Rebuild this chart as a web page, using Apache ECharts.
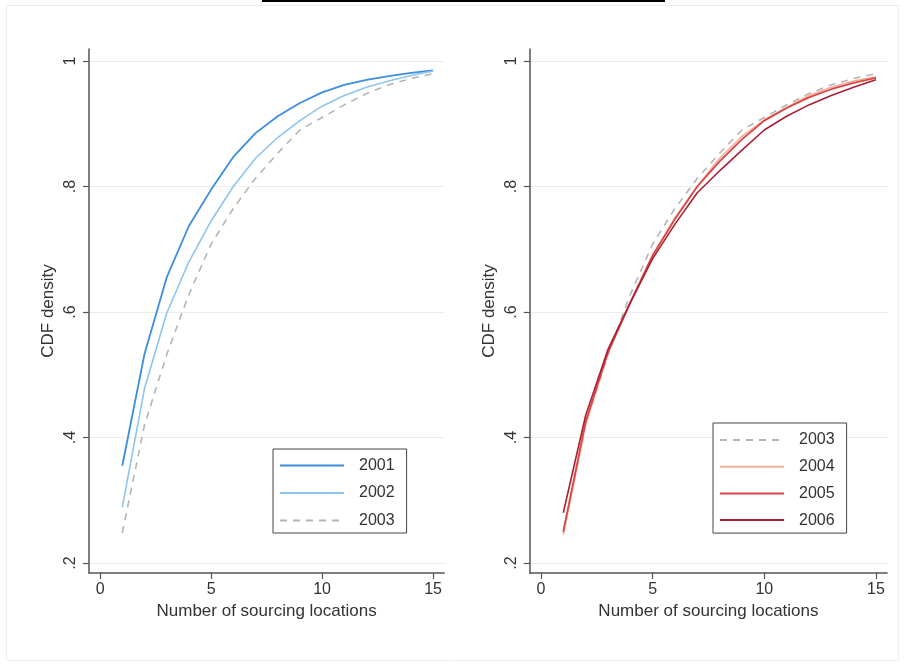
<!DOCTYPE html>
<html>
<head>
<meta charset="utf-8">
<script src="https://cdn.jsdelivr.net/npm/echarts@6/dist/echarts.min.js"></script>
<style>
html,body{margin:0;padding:0;background:#fff;}
#chart{width:904px;height:667px;}
</style>
</head>
<body>
<div id="chart"></div>
<script>
// ---- data ----
var locations = [1,2,3,4,5,6,7,8,9,10,11,12,13,14,15];
var cdf2001 = [0.355,0.533,0.655,0.737,0.795,0.847,0.885,0.912,0.933,0.950,0.962,0.970,0.976,0.981,0.985];
var cdf2002 = [0.289,0.478,0.598,0.680,0.745,0.800,0.845,0.878,0.905,0.928,0.945,0.958,0.968,0.977,0.984];
var cdf2003 = [0.248,0.420,0.532,0.628,0.708,0.765,0.813,0.853,0.890,0.910,0.930,0.948,0.962,0.972,0.980];
var cdf2004 = [0.245,0.420,0.540,0.615,0.690,0.750,0.800,0.845,0.880,0.906,0.926,0.945,0.958,0.968,0.975];
var cdf2005 = [0.250,0.425,0.535,0.615,0.690,0.748,0.800,0.840,0.875,0.905,0.925,0.942,0.955,0.965,0.973];
var cdf2006 = [0.280,0.435,0.540,0.615,0.685,0.740,0.790,0.825,0.858,0.890,0.912,0.930,0.945,0.958,0.970];
var yTickValues = [0.2,0.4,0.6,0.8,1];
var yTickLabels = ['.2','.4','.6','.8','1'];
var xTickValues = [0,5,10,15];
var xTickLabels = ['0','5','10','15'];
var xTitle = 'Number of sourcing locations';
var yTitle = 'CDF density';

function pairs(arr){ return locations.map(function(x,i){ return [x, arr[i]]; }); }

var FONT = '"Liberation Sans", Arial, sans-serif';
var AXC = '#555555';
var TXT = '#333333';

function makeX(idx){
  return {
    type:'value', gridIndex:idx, min:-0.5, max:15.5,
    axisLine:{show:true, onZero:false, lineStyle:{color:AXC, width:1.5}},
    axisTick:{show:true, length:6, inside:false, customValues:xTickValues, lineStyle:{color:AXC, width:1.2}},
    axisLabel:{customValues:xTickValues, margin:9, color:TXT, fontSize:16, fontFamily:FONT,
      formatter:function(v){ var i = xTickValues.indexOf(v); return i>=0 ? xTickLabels[i] : ''; }},
    splitLine:{show:false},
    name:xTitle, nameLocation:'middle', nameGap:25,
    nameTextStyle:{color:TXT, fontSize:17, fontFamily:FONT}
  };
}
function makeY(idx){
  return {
    type:'value', gridIndex:idx, min:0.184, max:1.0191,
    axisLine:{show:true, onZero:false, lineStyle:{color:AXC, width:1.5}},
    axisTick:{show:true, length:6, inside:false, customValues:yTickValues, lineStyle:{color:AXC, width:1.2}},
    axisLabel:{customValues:yTickValues, rotate:90, margin:10, color:TXT, fontSize:16, fontFamily:FONT,
      formatter:function(v){ var i = yTickValues.indexOf(v); return i>=0 ? yTickLabels[i] : ''; }},
    splitLine:{show:true, lineStyle:{color:'#ececec', width:1}},
    name:yTitle, nameLocation:'middle', nameGap:32,
    nameTextStyle:{color:TXT, fontSize:17, fontFamily:FONT}
  };
}
function lineSeries(name, arr, idx, color, width, dashed){
  return {
    name:name, type:'line', xAxisIndex:idx, yAxisIndex:idx, data:pairs(arr),
    showSymbol:false, symbol:'none', smooth:false, animation:false,
    lineStyle:{color:color, width:width, type: dashed ? [7,6] : 'solid'},
    itemStyle:{color:color}
  };
}

var C2001 = '#3a8ee0', C2002 = '#8fc4ec', C2003 = '#b4b4b4',
    C2004 = '#f3ad9c', C2005 = '#dc4545', C2006 = '#ab1f34';

var legendCommon = {
  orient:'vertical', itemWidth:64, itemHeight:14,
  borderColor:'#444', borderWidth:1, backgroundColor:'#fff',
  selectedMode:false,
  itemStyle:{opacity:0, borderWidth:0},
  textStyle:{color:TXT, fontSize:16, fontFamily:FONT, lineHeight:18, padding:[0,0,0,10]}
};
function legendAt(extra){ var o = {}; for (var k in legendCommon) o[k]=legendCommon[k]; for (var k2 in extra) o[k2]=extra[k2]; return o; }

var option = {
  backgroundColor:'#ffffff',
  animation:false,
  grid:[
    {left:89, top:49, width:355.2, bottom:94, containLabel:false},
    {left:529.8, top:49, width:357.3, bottom:94, containLabel:false}
  ],
  xAxis:[makeX(0), makeX(1)],
  yAxis:[makeY(0), makeY(1)],
  legend:[
    legendAt({left:273, top:449, data:['2001','2002','2003'], itemGap:9.5, padding:[7.5,12,3.5,6]}),
    legendAt({left:713, top:423, data:['2003','2004','2005','2006'], itemGap:8.7, padding:[8,12,4,6]})
  ],
  series:[
    lineSeries('2001', cdf2001, 0, C2001, 1.8, false),
    lineSeries('2002', cdf2002, 0, C2002, 1.6, false),
    lineSeries('2003', cdf2003, 0, C2003, 1.6, true),
    lineSeries('2003', cdf2003, 1, C2003, 1.6, true),
    lineSeries('2004', cdf2004, 1, C2004, 1.6, false),
    lineSeries('2005', cdf2005, 1, C2005, 1.8, false),
    lineSeries('2006', cdf2006, 1, C2006, 1.6, false)
  ],
  graphic:[
    {type:'rect', silent:true, z:-10, shape:{x:6.5, y:5.5, width:892, height:655}, style:{fill:null, stroke:'#eeeeee', lineWidth:1}},
    {type:'rect', silent:true, shape:{x:262, y:0, width:403, height:2}, style:{fill:'#000'}}
  ]
};

var chart = echarts.init(document.getElementById('chart'), null, {renderer:'canvas'});
chart.setOption(option);
</script>
</body>
</html>
